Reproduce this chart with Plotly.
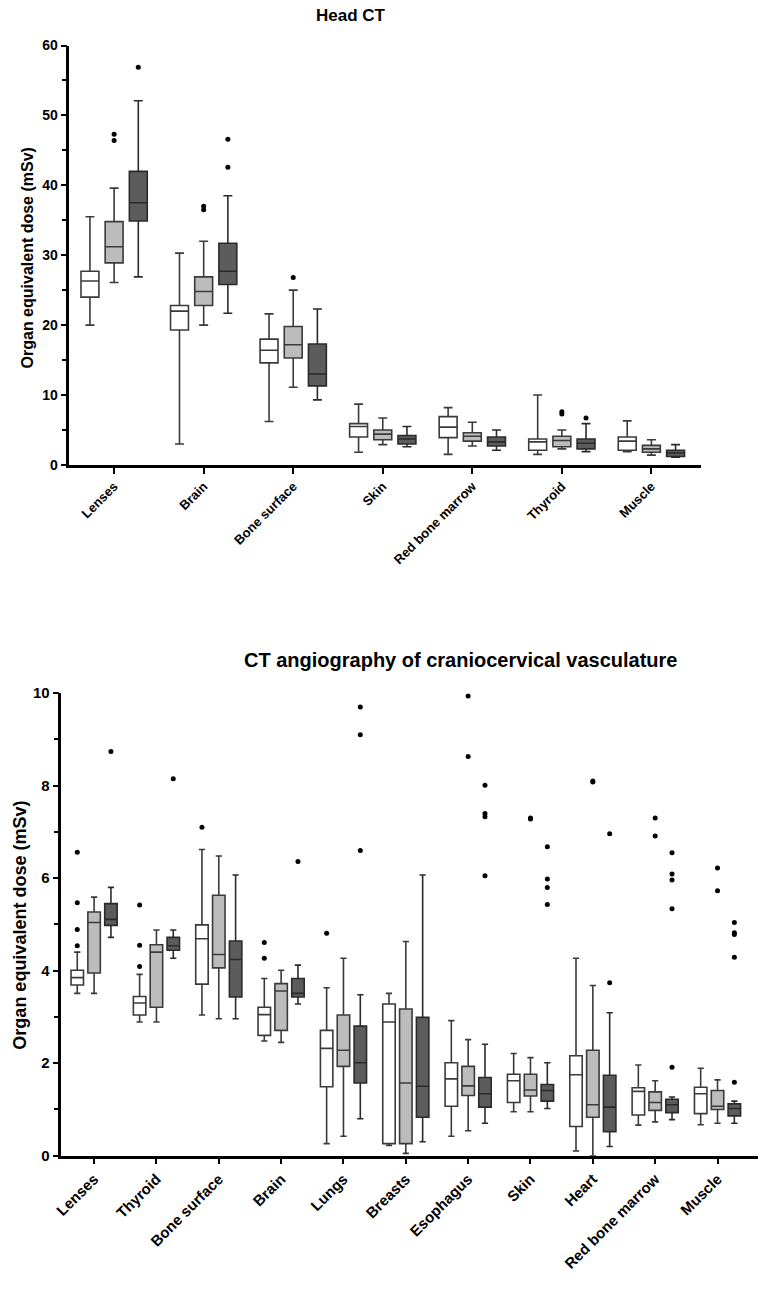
import plotly.graph_objects as go

W, H = 762, 1289
FONT = "Liberation Sans, Arial, Helvetica, sans-serif"

# ---------------- Head CT ----------------
head_cats = ["Lenses", "Brain", "Bone surface", "Skin", "Red bone marrow", "Thyroid", "Muscle"]

head_lower_1 = [20.0, 3.0, 6.2, 1.8, 1.5, 1.5, 1.9]
head_q1_1 = [24.0, 19.3, 14.6, 4.0, 3.9, 2.1, 2.1]
head_med_1 = [26.3, 22.0, 16.4, 5.5, 5.4, 3.3, 3.4]
head_q3_1 = [27.7, 22.8, 18.0, 5.9, 6.9, 3.7, 4.0]
head_upper_1 = [35.5, 30.3, 21.6, 8.7, 8.2, 10.0, 6.3]

head_lower_2 = [26.1, 20.0, 11.1, 2.9, 2.7, 2.3, 1.4]
head_q1_2 = [28.9, 22.8, 15.3, 3.6, 3.4, 2.6, 1.8]
head_med_2 = [31.2, 24.8, 17.2, 4.4, 4.1, 3.5, 2.3]
head_q3_2 = [34.8, 26.9, 19.8, 5.0, 4.6, 4.1, 2.8]
head_upper_2 = [39.6, 32.0, 25.0, 6.7, 6.1, 5.0, 3.6]

head_lower_3 = [26.9, 21.7, 9.3, 2.6, 2.1, 1.9, 1.1]
head_q1_3 = [34.9, 25.8, 11.3, 3.0, 2.7, 2.3, 1.2]
head_med_3 = [37.5, 27.7, 13.0, 3.7, 3.3, 3.1, 1.7]
head_q3_3 = [42.0, 31.7, 17.3, 4.2, 4.0, 3.7, 2.1]
head_upper_3 = [52.1, 38.5, 22.3, 5.5, 5.0, 5.9, 2.9]

head_out_cat_1 = []
head_out_val_1 = []
head_out_cat_2 = ["Lenses", "Lenses", "Brain", "Brain", "Bone surface", "Thyroid", "Thyroid"]
head_out_val_2 = [46.4, 47.3, 36.5, 37.0, 26.8, 7.3, 7.6]
head_out_cat_3 = ["Lenses", "Brain", "Brain", "Thyroid"]
head_out_val_3 = [56.9, 42.6, 46.6, 6.7]

head_ticks = [0, 10, 20, 30, 40, 50, 60]

# ---------------- CT angiography ----------------
cta_cats = ["Lenses", "Thyroid", "Bone surface", "Brain", "Lungs", "Breasts",
            "Esophagus", "Skin", "Heart", "Red bone marrow", "Muscle"]

cta_lower_1 = [3.51, 2.89, 3.04, 2.48, 0.26, 0.22, 0.42, 0.95, 0.10, 0.66, 0.67]
cta_q1_1 = [3.69, 3.04, 3.71, 2.60, 1.49, 0.26, 1.07, 1.15, 0.63, 0.88, 0.91]
cta_med_1 = [3.85, 3.30, 4.69, 3.05, 2.32, 2.89, 1.66, 1.62, 1.75, 1.39, 1.34]
cta_q3_1 = [4.01, 3.44, 4.99, 3.21, 2.71, 3.28, 2.01, 1.76, 2.16, 1.47, 1.48]
cta_upper_1 = [4.40, 3.92, 6.62, 3.83, 3.63, 3.51, 2.92, 2.21, 4.27, 1.96, 1.89]

cta_lower_2 = [3.51, 2.89, 2.96, 2.45, 0.42, 0.05, 0.54, 0.95, 0.00, 0.73, 0.70]
cta_q1_2 = [3.95, 3.21, 4.06, 2.71, 1.93, 0.26, 1.30, 1.29, 0.83, 0.98, 1.00]
cta_med_2 = [5.04, 4.40, 4.35, 3.56, 2.28, 1.57, 1.51, 1.42, 1.10, 1.15, 1.07]
cta_q3_2 = [5.27, 4.56, 5.63, 3.72, 3.04, 3.17, 1.93, 1.76, 2.28, 1.38, 1.41]
cta_upper_2 = [5.59, 4.88, 6.48, 4.01, 4.27, 4.63, 2.51, 2.12, 3.68, 1.62, 1.64]

cta_lower_3 = [4.72, 4.27, 2.96, 3.28, 0.80, 0.30, 0.70, 1.02, 0.20, 0.78, 0.70]
cta_q1_3 = [4.98, 4.44, 3.43, 3.43, 1.57, 0.83, 1.05, 1.18, 0.52, 0.93, 0.86]
cta_med_3 = [5.11, 4.54, 4.24, 3.51, 2.01, 1.50, 1.34, 1.41, 1.05, 1.10, 1.02]
cta_q3_3 = [5.45, 4.72, 4.64, 3.83, 2.80, 2.99, 1.69, 1.54, 1.74, 1.22, 1.12]
cta_upper_3 = [5.80, 4.88, 6.07, 4.12, 3.48, 6.07, 2.41, 2.01, 3.09, 1.27, 1.18]

cta_out_cat_1 = ["Lenses", "Lenses", "Lenses", "Lenses", "Thyroid", "Thyroid", "Thyroid",
                 "Bone surface", "Brain", "Brain", "Lungs"]
cta_out_val_1 = [6.56, 5.47, 4.89, 4.54, 5.42, 4.55, 4.09, 7.10, 4.61, 4.27, 4.81]
cta_out_cat_2 = ["Esophagus", "Esophagus", "Skin", "Skin", "Heart", "Heart",
                 "Red bone marrow", "Red bone marrow", "Muscle", "Muscle"]
cta_out_val_2 = [9.94, 8.63, 7.30, 7.28, 8.08, 8.10, 7.30, 6.91, 6.22, 5.73]
cta_out_cat_3 = ["Lenses", "Thyroid", "Brain", "Lungs", "Lungs", "Lungs",
                 "Esophagus", "Esophagus", "Esophagus", "Esophagus",
                 "Skin", "Skin", "Skin", "Skin", "Heart", "Heart",
                 "Red bone marrow", "Red bone marrow", "Red bone marrow", "Red bone marrow", "Red bone marrow",
                 "Muscle", "Muscle", "Muscle", "Muscle", "Muscle"]
cta_out_val_3 = [8.74, 8.15, 6.36, 9.70, 9.10, 6.60,
                 8.01, 7.40, 7.33, 6.05,
                 6.68, 5.98, 5.80, 5.43, 6.96, 3.74,
                 6.55, 6.09, 5.96, 5.34, 1.91,
                 5.04, 4.82, 4.78, 4.29, 1.59]

cta_ticks = [0, 2, 4, 6, 8, 10]

# ---------------- styling ----------------
fills = ["#ffffff", "#bcbcbc", "#5c5c5c"]
edges = ["#3a3a3a", "#3a3a3a", "#2a2a2a"]
offsets = [-0.27, 0.0, 0.27]
BOX_W = 0.2

fig = go.Figure()


def add_panel(cats, stats, outs, xa, ya):
    idx = {c: i for i, c in enumerate(cats)}
    for g, (lo, q1, md, q3, up) in enumerate(stats):
        fig.add_trace(go.Box(
            x=[i + offsets[g] for i in range(len(cats))],
            lowerfence=lo, q1=q1, median=md, q3=q3, upperfence=up,
            width=BOX_W, whiskerwidth=0.5, boxpoints=False,
            fillcolor=fills[g], line=dict(color=edges[g], width=1.6),
            xaxis=xa, yaxis=ya, showlegend=False, hoverinfo="skip"))
    for g, (oc, ov) in enumerate(outs):
        if not oc:
            continue
        fig.add_trace(go.Scatter(
            x=[idx[c] + offsets[g] for c in oc], y=ov, mode="markers",
            marker=dict(color="black", size=5),
            xaxis=xa, yaxis=ya, showlegend=False, hoverinfo="skip"))


add_panel(head_cats,
          [(head_lower_1, head_q1_1, head_med_1, head_q3_1, head_upper_1),
           (head_lower_2, head_q1_2, head_med_2, head_q3_2, head_upper_2),
           (head_lower_3, head_q1_3, head_med_3, head_q3_3, head_upper_3)],
          [(head_out_cat_1, head_out_val_1), (head_out_cat_2, head_out_val_2),
           (head_out_cat_3, head_out_val_3)], "x", "y")

add_panel(cta_cats,
          [(cta_lower_1, cta_q1_1, cta_med_1, cta_q3_1, cta_upper_1),
           (cta_lower_2, cta_q1_2, cta_med_2, cta_q3_2, cta_upper_2),
           (cta_lower_3, cta_q1_3, cta_med_3, cta_q3_3, cta_upper_3)],
          [(cta_out_cat_1, cta_out_val_1), (cta_out_cat_2, cta_out_val_2),
           (cta_out_cat_3, cta_out_val_3)], "x2", "y2")

axis_common = dict(showline=True, linecolor="black", linewidth=2.5, showgrid=False,
                   zeroline=False, ticks="outside", tickcolor="black", tickwidth=2,
                   mirror=False)


def px_x(p):
    return p / W


def px_y(p):
    return 1 - p / H


fig.update_layout(
    width=W, height=H, margin=dict(l=0, r=0, t=0, b=0),
    paper_bgcolor="white", plot_bgcolor="white",
    font=dict(family=FONT, color="black", weight="bold"),
    xaxis=dict(axis_common, domain=[px_x(62), px_x(700)], range=[-0.5, 6.55],
               tickvals=list(range(len(head_cats))), ticktext=head_cats,
               tickangle=-45, ticklen=6, anchor="y",
               tickfont=dict(size=13, family=FONT, weight="bold")),
    yaxis=dict(axis_common, domain=[px_y(462), px_y(37)], range=[0, 60],
               tickvals=head_ticks, ticklen=6, anchor="x",
               minor=dict(dtick=5, ticks="outside", ticklen=5, tickwidth=2, tickcolor="black"),
               tickfont=dict(size=14, family=FONT, weight="bold")),
    xaxis2=dict(axis_common, domain=[px_x(54), px_x(758)], range=[-0.524, 10.65],
                tickvals=list(range(len(cta_cats))), ticktext=cta_cats,
                tickangle=-45, ticklen=6, anchor="y2",
                tickfont=dict(size=15, family=FONT, weight="bold")),
    yaxis2=dict(axis_common, domain=[px_y(1162), px_y(693.3)], range=[0, 10],
                tickvals=cta_ticks, ticklen=6, anchor="x2",
                minor=dict(dtick=1, ticks="outside", ticklen=5, tickwidth=2, tickcolor="black"),
                tickfont=dict(size=15, family=FONT, weight="bold")),
    annotations=[
        dict(text="Head CT", x=px_x(347), y=px_y(7), xref="paper", yref="paper",
             showarrow=False, xanchor="center", yanchor="middle",
             font=dict(size=17, family=FONT, weight="bold")),
        dict(text="CT angiography of craniocervical vasculature", x=px_x(457), y=px_y(660),
             xref="paper", yref="paper", showarrow=False, xanchor="center", yanchor="middle",
             font=dict(size=20, family=FONT, weight="bold")),
        dict(text="Organ equivalent dose (mSv)", x=px_x(20), y=px_y(252),
             xref="paper", yref="paper", showarrow=False, textangle=-90,
             xanchor="center", yanchor="middle",
             font=dict(size=16, family=FONT, weight="bold")),
        dict(text="Organ equivalent dose (mSv)", x=px_x(12), y=px_y(928),
             xref="paper", yref="paper", showarrow=False, textangle=-90,
             xanchor="center", yanchor="middle",
             font=dict(size=18, family=FONT, weight="bold")),
    ],
)

fig.write_html("out.html")
